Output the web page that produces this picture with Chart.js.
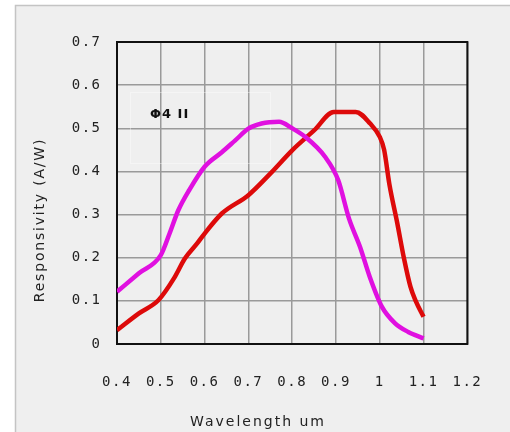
<!DOCTYPE html>
<html>
<head>
<meta charset="utf-8">
<script src="https://cdn.jsdelivr.net/npm/chart.js@4/dist/chart.umd.min.js"></script>
<style>
  html, body { margin: 0; padding: 0; background: #fff; }
  #wrap { position: absolute; left: 0; top: 0; width: 510px; height: 432px; }
</style>
</head>
<body>
<div id="wrap"><canvas id="respChart" width="510" height="432"></canvas></div>
<script>
// 파장 (um) / 응답도 (A/W) - 그림에서 읽은 값
const magentaWave = [0.40, 0.45, 0.50, 0.52, 0.54, 0.565, 0.60, 0.64, 0.67, 0.70, 0.73, 0.77, 0.80, 0.83, 0.875, 0.905, 0.93, 0.955, 0.977, 1.005, 1.035, 1.065, 1.10];
const magentaResp = [0.121, 0.164, 0.206, 0.256, 0.31, 0.357, 0.411, 0.445, 0.472, 0.499, 0.511, 0.515, 0.50, 0.48, 0.434, 0.38, 0.29, 0.225, 0.156, 0.086, 0.048, 0.028, 0.013];

const redWave = [0.40, 0.45, 0.495, 0.53, 0.555, 0.583, 0.60, 0.64, 0.70, 0.75, 0.80, 0.85, 0.895, 0.945, 0.978, 1.0, 1.01, 1.022, 1.04, 1.055, 1.07, 1.082, 1.10];
const redResp = [0.032, 0.071, 0.102, 0.152, 0.198, 0.233, 0.256, 0.303, 0.345, 0.395, 0.449, 0.495, 0.538, 0.538, 0.511, 0.48, 0.45, 0.37, 0.28, 0.20, 0.133, 0.10, 0.063];

const xTitle = 'Wavelength um';
const yTitle = 'Responsivity (A/W)';
const legendText = 'Φ4 II';

const toPoints = (xs, ys) => xs.map((x, i) => ({ x, y: ys[i] }));
const fmt = v => String(Number(v.toFixed(1)));

// 배경, 테두리, 제목 등 직접 그리는 부분
const decor = {
    id: 'decor',
    beforeDraw(chart) {
        const ctx = chart.ctx;
        ctx.save();
        ctx.fillStyle = '#ffffff';
        ctx.fillRect(0, 0, 510, 432);
        ctx.fillStyle = '#efefef';
        ctx.fillRect(15, 5, 495, 427);
        ctx.strokeStyle = '#c4c4c4';
        ctx.lineWidth = 1.5;
        ctx.beginPath();
        ctx.moveTo(15.5, 432); ctx.lineTo(15.5, 5.5); ctx.lineTo(510, 5.5);
        ctx.stroke();
        ctx.restore();
        ctx.letterSpacing = '1.5px';
    },
    beforeDatasetsDraw(chart) {
        const ctx = chart.ctx;
        const a = chart.chartArea;
        ctx.save();
        // 범례 박스 (희미함)
        ctx.strokeStyle = 'rgba(255,255,255,0.4)';
        ctx.lineWidth = 1;
        ctx.strokeRect(130.5, 92.5, 140, 71);
        ctx.letterSpacing = '1px';
        ctx.fillStyle = '#111';
        ctx.font = 'bold 13px "DejaVu Sans"';
        ctx.textBaseline = 'middle';
        ctx.textAlign = 'left';
        ctx.fillText(legendText, 150, 115);
        // 플롯 외곽선
        ctx.strokeStyle = '#111';
        ctx.lineWidth = 2;
        ctx.strokeRect(a.left, a.top, a.right - a.left, a.bottom - a.top);
        ctx.restore();
    },
    afterDraw(chart) {
        const ctx = chart.ctx;
        ctx.save();
        ctx.fillStyle = '#222';
        ctx.textAlign = 'center';
        ctx.textBaseline = 'middle';
        ctx.font = '14px "DejaVu Sans"';
        ctx.letterSpacing = '2px';
        ctx.fillText(xTitle, 258, 422);
        ctx.translate(40, 220);
        ctx.rotate(-Math.PI / 2);
        ctx.letterSpacing = '1.8px';
        ctx.fillText(yTitle, 0, 0);
        ctx.restore();
        ctx.letterSpacing = '0px';
    }
};

const tickFont = { family: '"DejaVu Sans Mono", monospace', size: 14 };

new Chart(document.getElementById('respChart').getContext('2d'), {
    type: 'line',
    data: {
        datasets: [{
            data: toPoints(magentaWave, magentaResp),
            borderColor: '#e010e0',
            borderWidth: 4.5,
            pointRadius: 0,
            cubicInterpolationMode: 'monotone',
        }, {
            data: toPoints(redWave, redResp),
            borderColor: '#dd0a0a',
            borderWidth: 4.5,
            pointRadius: 0,
            cubicInterpolationMode: 'monotone',
        }]
    },
    options: {
        responsive: false,
        animation: false,
        devicePixelRatio: 1,
        layout: { padding: { left: 0, top: 42, right: 28, bottom: 0 } },
        plugins: { legend: { display: false }, tooltip: { enabled: false } },
        scales: {
            x: {
                type: 'linear',
                min: 0.4, max: 1.2,
                afterFit: s => { s.height = 88; },
                grid: { color: '#9a9a9a', lineWidth: 1.5, drawTicks: false },
                border: { display: false },
                ticks: { stepSize: 0.1, padding: 30, color: '#222', font: tickFont, maxRotation: 0, autoSkip: false, callback: fmt }
            },
            y: {
                min: 0, max: 0.7,
                afterFit: s => { s.width = 117; },
                grid: { color: '#9a9a9a', lineWidth: 1.5, drawTicks: false },
                border: { display: false },
                ticks: { stepSize: 0.1, padding: 15.5, color: '#222', font: tickFont, callback: fmt }
            }
        }
    },
    plugins: [decor]
});
</script>
</body>
</html>
